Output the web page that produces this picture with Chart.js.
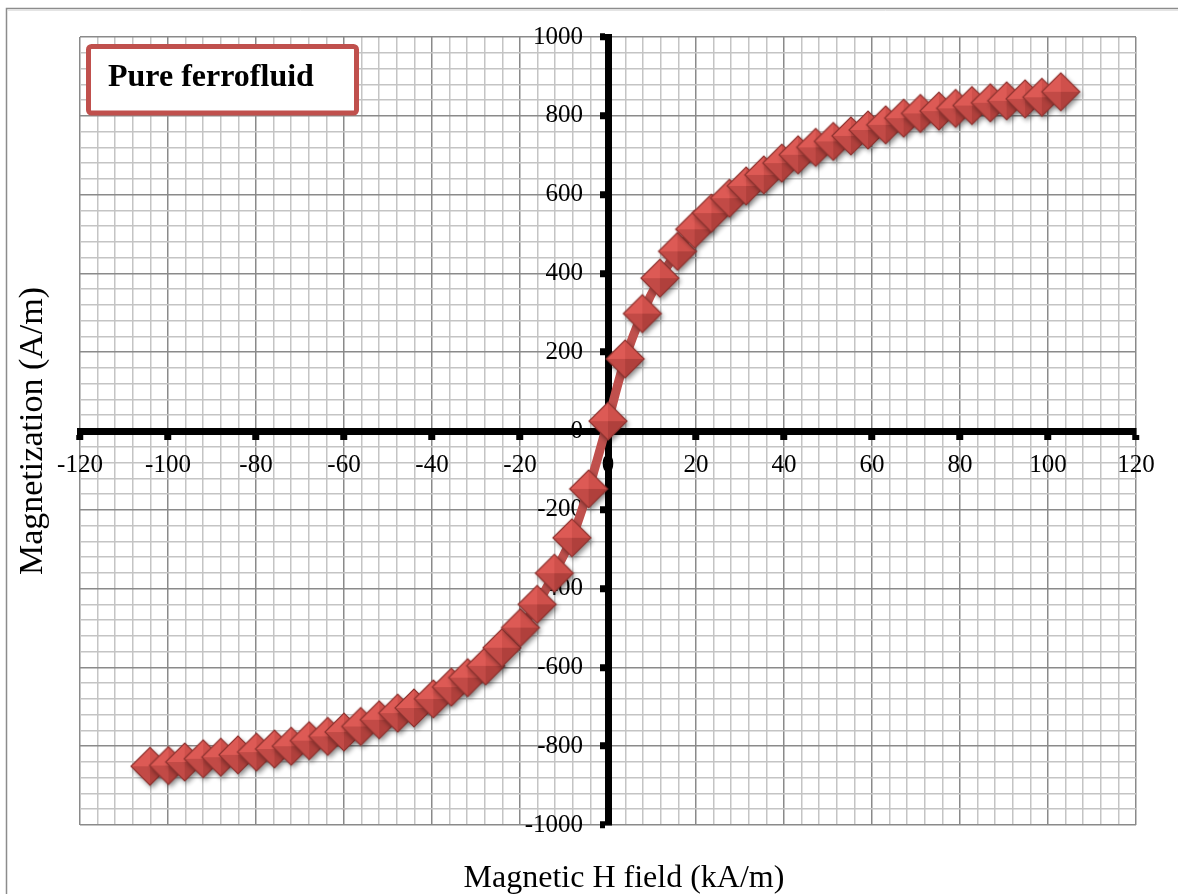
<!DOCTYPE html>
<html>
<head>
<meta charset="utf-8">
<script src="https://cdn.jsdelivr.net/npm/chart.js@4.4.1/dist/chart.umd.min.js"></script>
<style>
  html, body { margin: 0; padding: 0; background: #ffffff; }
  canvas { display: block; }
</style>
</head>
<body>
<canvas id="chart" width="1178" height="894"></canvas>
<script>
// ---- data ----
const fieldH = [-104.1, -99.9, -96.2, -92.0, -88.0, -84.1, -79.9, -75.8, -72.0, -67.9,
                -63.7, -60.0, -56.2, -52.0, -47.8, -44.1, -39.7, -35.6, -31.9, -27.8,
                -24.1, -19.9, -16.1, -12.2, -8.2, -4.4, 0,
                3.9, 7.8, 11.8, 15.8, 19.7, 23.5, 27.6, 31.4, 35.4, 39.5,
                43.2, 47.2, 51.2, 55.2, 59.1, 63.1, 67.2, 71.0, 75.2, 79.0,
                82.7, 86.9, 90.6, 94.8, 98.6, 102.9];
const magnetization = [-851, -849, -840, -832, -828, -822, -815, -807, -800, -786,
                       -775, -764, -750, -733, -716, -703, -680, -650, -626, -596,
                       -550, -499, -440, -361, -271, -147, 25,
                       183, 298, 388, 456, 512, 553, 591, 622, 650, 680,
                       701, 720, 735, 749, 764, 777, 794, 806, 812, 819,
                       826, 833, 838, 843, 847, 861];
const seriesName = 'Pure ferrofluid';
const xAxisTitle = 'Magnetic H field (kA/m)';
const yAxisTitle = 'Magnetization (A/m)';
const xRange = [-120, 120];
const yRange = [-1000, 1000];
const xMajorStep = 20, xMinorStep = 4;
const yMajorStep = 200, yMinorStep = 40;

// ---- styling helpers ----
const RED = '#c0504d';
const SERIF = '"Liberation Serif", "Times New Roman", serif';

function makeDiamond(r) {
  const pad = 8, S = 2 * r + 2 * pad;
  const c = document.createElement('canvas');
  c.width = S; c.height = S;
  const g = c.getContext('2d');
  const cx = S / 2, cy = S / 2;
  const L = [cx - r, cy], T = [cx, cy - r], R = [cx + r, cy], B = [cx, cy + r];
  const outline = () => { g.beginPath(); g.moveTo(...L); g.lineTo(...T); g.lineTo(...R); g.lineTo(...B); g.closePath(); };
  g.save();
  g.shadowColor = 'rgba(0,0,0,0.45)'; g.shadowBlur = 5; g.shadowOffsetX = 2; g.shadowOffsetY = 3;
  outline(); g.fillStyle = RED; g.fill();
  g.restore();
  const faces = [[L, T, '#dd5a55'], [T, R, '#cf504b'], [R, B, '#b0403c'], [B, L, '#c24a46']];
  for (const [p, q, col] of faces) {
    g.beginPath(); g.moveTo(cx, cy); g.lineTo(...p); g.lineTo(...q); g.closePath();
    g.fillStyle = col; g.fill();
  }
  outline(); g.strokeStyle = '#8e3330'; g.lineWidth = 1.2; g.stroke();
  return c;
}

function gridColor(ctx, major) {
  const v = ctx.tick ? ctx.tick.value : 1;
  if (v === 0) return 'rgba(0,0,0,0)';
  return (v % major === 0) ? '#8a8a8a' : '#c4c4c4';
}
function tickColor(ctx, major) {
  const v = ctx.tick ? ctx.tick.value : 1;
  return (v % major === 0) ? '#000000' : 'rgba(0,0,0,0)';
}

const decor = {
  id: 'decor',
  beforeDraw(chart) {
    const g = chart.ctx;
    g.save();
    g.fillStyle = '#ffffff';
    g.fillRect(0, 0, chart.width, chart.height);
    g.strokeStyle = '#8c8c8c'; g.lineWidth = 1.5;
    g.beginPath(); g.moveTo(6.5, chart.height); g.lineTo(6.5, 8.5); g.lineTo(chart.width, 8.5); g.stroke();
    g.strokeStyle = '#e4e4e4'; g.lineWidth = 1;
    g.beginPath(); g.moveTo(8, 10.5); g.lineTo(chart.width, 10.5); g.stroke();
    g.restore();
  },
  afterDraw(chart) {
    const g = chart.ctx;
    g.save();
    g.fillStyle = '#000';
    g.textAlign = 'center';
    g.textBaseline = 'alphabetic';
    g.font = '32px ' + SERIF;
    g.fillText(xAxisTitle, 624, 887);
    g.save();
    g.font = '34px ' + SERIF;
    g.translate(42, 431);
    g.rotate(-Math.PI / 2);
    g.fillText(yAxisTitle, 0, 0);
    g.restore();
    // legend box
    g.beginPath();
    g.roundRect(88.5, 46.5, 268, 66.5, 3);
    g.fillStyle = '#ffffff'; g.fill();
    g.lineWidth = 5; g.strokeStyle = RED; g.stroke();
    g.fillStyle = '#000';
    g.font = 'bold 32px ' + SERIF;
    g.textAlign = 'left';
    g.fillText(seriesName, 108, 86);
    g.restore();
  }
};

const points = fieldH.map((h, i) => ({ x: h, y: magnetization[i] }));

new Chart(document.getElementById('chart'), {
  type: 'scatter',
  data: {
    datasets: [{
      label: seriesName,
      data: points,
      showLine: true,
      borderColor: RED,
      borderWidth: 9,
      tension: 0.3,
      pointStyle: makeDiamond(19),
      pointRadius: 19,
      pointHoverRadius: 19,
      backgroundColor: RED,
      clip: false
    }]
  },
  options: {
    responsive: false,
    animation: false,
    events: [],
    layout: { padding: { left: 80, top: 37, right: 42, bottom: 69 } },
    plugins: { legend: { display: false }, tooltip: { enabled: false } },
    scales: {
      x: {
        type: 'linear',
        position: { y: 0 },
        min: xRange[0], max: xRange[1],
        ticks: {
          stepSize: xMinorStep, autoSkip: false, maxRotation: 0, minRotation: 0,
          padding: 14, color: '#000',
          font: { family: SERIF, size: 25 },
          callback: v => (v % xMajorStep === 0 ? String(v) : '')
        },
        grid: {
          color: ctx => gridColor(ctx, xMajorStep),
          lineWidth: 1.5,
          drawTicks: true, tickLength: 5,
          tickWidth: 7,
          tickColor: ctx => tickColor(ctx, xMajorStep)
        },
        border: { display: true, color: '#000', width: 7 }
      },
      y: {
        type: 'linear',
        position: { x: 0 },
        min: yRange[0], max: yRange[1],
        ticks: {
          stepSize: yMinorStep, autoSkip: false, color: '#000',
          font: { family: SERIF, size: 25 },
          callback: v => (v % yMajorStep === 0 ? String(v) + '\u2003' : '')
        },
        grid: {
          color: ctx => gridColor(ctx, yMajorStep),
          lineWidth: 1.5,
          drawTicks: true, tickLength: 5,
          tickWidth: 7,
          tickColor: ctx => tickColor(ctx, yMajorStep)
        },
        border: { display: true, color: '#000', width: 7 }
      }
    }
  },
  plugins: [decor]
});
</script>
</body>
</html>
